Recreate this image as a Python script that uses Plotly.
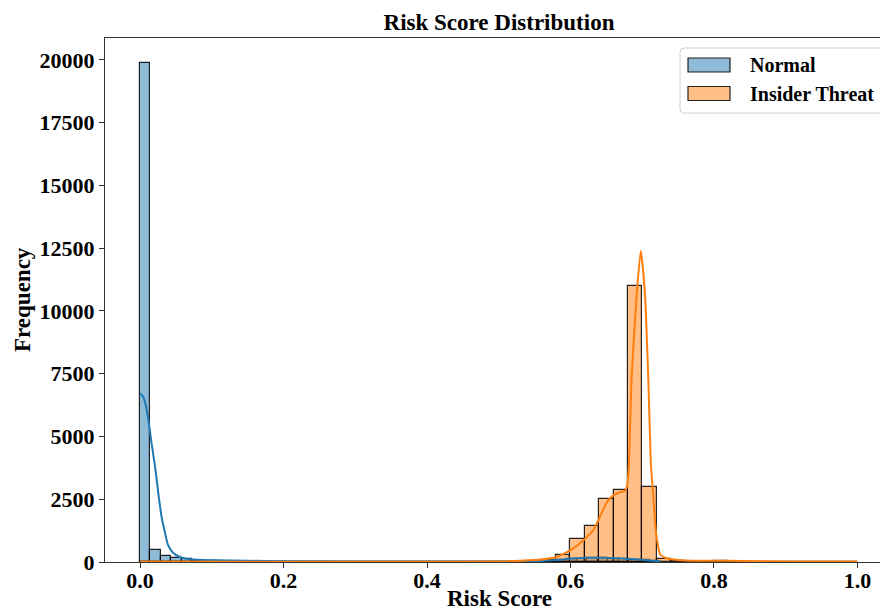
import plotly.graph_objects as go

# ---- Histogram data (counts per bin) ----
normal_bin_start = 0.0
normal_bin_width = 0.0145
normal_counts = [
    19890, 460, 240, 150, 105, 45, 32, 24, 18, 14,
    11, 9, 7, 6, 5, 4, 3, 3, 2, 2,
    2, 1, 1, 1, 1, 1, 1, 1, 1, 2,
    2, 3, 4, 5, 7, 8, 10, 12, 18, 30,
    70, 100, 130, 145, 140, 130, 115, 95, 65, 35,
]

threat_bin_start = 0.0
threat_bin_width = 0.02
threat_counts = [
    12, 3, 2, 2, 1, 1, 1, 1, 1, 1,
    1, 1, 1, 1, 1, 1, 1, 1, 1, 1,
    1, 1, 2, 2, 3, 5, 10, 20, 60, 267,
    900, 1420, 2520, 2865, 10990, 2990, 100, 30, 20, 15,
    50, 10, 8, 6, 5, 5, 4, 4, 4, 3,
]

# ---- Density curves (scaled to counts) ----
normal_kde_x = [0.0, 0.004, 0.008, 0.012, 0.016, 0.021, 0.0255, 0.030, 0.035,
                0.039, 0.046, 0.056, 0.070, 0.100, 0.150, 0.200, 0.300, 0.450,
                0.550, 0.580, 0.600, 0.625, 0.645, 0.665, 0.690, 0.710, 0.725]
normal_kde_y = [6720, 6600, 6250, 5600, 4750, 3800, 2740, 1810, 1140,
                680, 370, 190, 110, 70, 50, 25, 10, 10,
                30, 80, 130, 165, 170, 150, 110, 60, 30]

threat_kde_x = [0.0, 0.2, 0.4, 0.50, 0.53, 0.56, 0.58, 0.60, 0.618, 0.632,
                0.641, 0.650, 0.657, 0.667, 0.676, 0.679, 0.6815, 0.685,
                0.692, 0.698, 0.704, 0.7085, 0.712, 0.7155, 0.718, 0.720,
                0.725, 0.734, 0.743, 0.760, 0.800, 0.820, 0.860, 0.950, 1.0]
threat_kde_y = [15, 10, 10, 20, 50, 100, 200, 470, 870, 1275,
                1805, 2338, 2602, 2761, 2830, 3050, 3900, 7250,
                10570, 12400, 10570, 7250, 3932, 2600, 1540, 1000,
                300, 150, 100, 60, 50, 50, 30, 20, 15]

x_ticks = [0.0, 0.2, 0.4, 0.6, 0.8, 1.0]
y_ticks = [0, 2500, 5000, 7500, 10000, 12500, 15000, 17500, 20000]

series_names = ["Normal", "Insider Threat"]
BLUE = "#1f77b4"
ORANGE = "#ff7f0e"
BLUE_FILL = "rgba(31,119,180,0.5)"
ORANGE_FILL = "rgba(255,127,14,0.5)"
EDGE = "rgba(0,0,0,0.85)"
FONT = "Liberation Serif"

# Layout geometry (pixels)
W, H = 880, 612
L, R, T, B = 105, 0, 38, 50
plot_w = W - L - R
plot_h = H - T - B


def px_x(px):
    return (px - L) / plot_w


def px_y(py):
    return (H - B - py) / plot_h


def centers(start, width, n):
    return [start + width * (i + 0.5) for i in range(n)]


fig = go.Figure()

fig.add_trace(go.Bar(
    x=centers(normal_bin_start, normal_bin_width, len(normal_counts)),
    y=normal_counts, width=normal_bin_width,
    marker=dict(color=BLUE_FILL, line=dict(color=EDGE, width=1.2)),
    name=series_names[0], showlegend=False,
))
fig.add_trace(go.Bar(
    x=centers(threat_bin_start, threat_bin_width, len(threat_counts)),
    y=threat_counts, width=threat_bin_width,
    marker=dict(color=ORANGE_FILL, line=dict(color=EDGE, width=1.2)),
    name=series_names[1], showlegend=False,
))
fig.add_trace(go.Scatter(
    x=normal_kde_x, y=normal_kde_y, mode="lines",
    line=dict(color=BLUE, width=2, shape="spline", smoothing=0.6),
    showlegend=False, hoverinfo="skip",
))
fig.add_trace(go.Scatter(
    x=threat_kde_x, y=threat_kde_y, mode="lines",
    line=dict(color=ORANGE, width=2, shape="spline", smoothing=0.5),
    showlegend=False, hoverinfo="skip",
))

fig.update_layout(
    width=W, height=H,
    margin=dict(l=L, r=R, t=T, b=B, pad=0, autoexpand=False),
    paper_bgcolor="white", plot_bgcolor="white",
    barmode="overlay", bargap=0,
    font=dict(family=FONT, color="black"),
    title=dict(
        text="<b>Risk Score Distribution</b>",
        font=dict(family=FONT, size=23, color="black"),
        xref="container", x=499 / W, xanchor="center",
        yref="container", y=1 - 22 / H, yanchor="middle",
    ),
    xaxis=dict(
        range=[-0.0488, 1.0314], automargin=False,
        tickvals=x_ticks, ticktext=[f"{v:.1f}" for v in x_ticks],
        ticks="outside", ticklen=5, tickwidth=1.2, tickcolor="#333",
        ticklabelstandoff=-7,
        showline=True, linecolor="#333", linewidth=1.3, mirror=True,
        showgrid=False, zeroline=False,
        tickfont=dict(family=FONT, size=22, color="black", weight="bold"),
    ),
    yaxis=dict(
        range=[0, 20876], automargin=False,
        tickvals=y_ticks, ticktext=[str(v) for v in y_ticks],
        ticks="outside", ticklen=5, tickwidth=1.2, tickcolor="#333",
        showline=True, linecolor="#333", linewidth=1.3, mirror=False,
        showgrid=False, zeroline=False,
        tickfont=dict(family=FONT, size=22, color="black", weight="bold"),
    ),
)

# Axis titles
fig.add_annotation(text="<b>Risk Score</b>", xref="paper", yref="paper",
                   x=px_x(499), y=px_y(598), xanchor="center", yanchor="middle",
                   showarrow=False, font=dict(family=FONT, size=23, color="black"))
fig.add_annotation(text="<b>Frequency</b>", xref="paper", yref="paper",
                   x=px_x(22), y=px_y(300), xanchor="center", yanchor="middle",
                   textangle=-90, showarrow=False,
                   font=dict(family=FONT, size=23, color="black"))

# Legend box with wide patches
x0, x1, y0, y1, r = 680, 892, 48, 113, 4
box_path = (
    f"M {px_x(x0 + r)},{px_y(y0)} L {px_x(x1 - r)},{px_y(y0)} "
    f"Q {px_x(x1)},{px_y(y0)} {px_x(x1)},{px_y(y0 + r)} "
    f"L {px_x(x1)},{px_y(y1 - r)} Q {px_x(x1)},{px_y(y1)} {px_x(x1 - r)},{px_y(y1)} "
    f"L {px_x(x0 + r)},{px_y(y1)} Q {px_x(x0)},{px_y(y1)} {px_x(x0)},{px_y(y1 - r)} "
    f"L {px_x(x0)},{px_y(y0 + r)} Q {px_x(x0)},{px_y(y0)} {px_x(x0 + r)},{px_y(y0)} Z"
)
fig.add_shape(type="path", path=box_path, xref="paper", yref="paper",
              fillcolor="rgba(255,255,255,0.85)",
              line=dict(color="#d0d0d0", width=1), layer="above")

legend_rows = [(series_names[0], BLUE_FILL, 65), (series_names[1], ORANGE_FILL, 93.5)]
for label, fill, cy in legend_rows:
    fig.add_shape(type="rect", xref="paper", yref="paper",
                  x0=px_x(688), x1=px_x(730), y0=px_y(cy - 7), y1=px_y(cy + 7),
                  fillcolor=fill, line=dict(color=EDGE, width=1.2), layer="above")
    fig.add_annotation(text=f"<b>{label}</b>", xref="paper", yref="paper",
                       x=px_x(748), y=px_y(cy), xanchor="left", yanchor="middle",
                       showarrow=False,
                       font=dict(family=FONT, size=20, color="black"))

fig.write_html("out.html")
